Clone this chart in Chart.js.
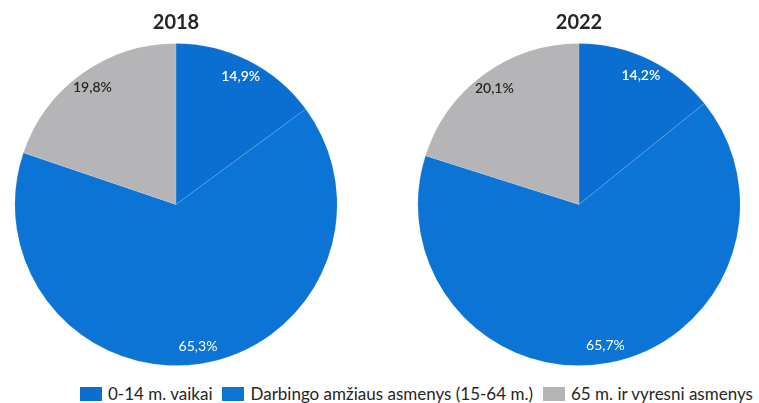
<!DOCTYPE html>
<html>
<head>
<meta charset="utf-8">
<script src="https://cdn.jsdelivr.net/npm/chart.js@4"></script>
<style>
    body { margin: 0; width: 759px; height: 403px; background: #fff; position: relative; overflow: hidden; font-family: Lato, "Open Sans", sans-serif; }
    .box { position: absolute; top: 0; width: 352px; height: 366px; }
    #legend { position: absolute; top: 383px; left: 80px; display: flex; align-items: center; font-size: 17px; color: #262626; white-space: nowrap; }
    #legend span.sw { display: inline-block; width: 22px; height: 14px; margin-right: 6px; }
    #legend .item { display: flex; align-items: center; margin-right: 10px; }
</style>
</head>
<body>
<div class="box" style="left:0"><canvas id="pie2018"></canvas></div>
<div class="box" style="left:403px"><canvas id="pie2022"></canvas></div>
<div id="legend"></div>
<script>
const kategorijos = ['0-14 m. vaikai', 'Darbingo amžiaus asmenys (15-64 m.)', '65 m. ir vyresni asmenys'];
const metai = ['2018', '2022'];
const reiksmes2018 = [14.9, 65.3, 19.8];
const reiksmes2022 = [14.2, 65.7, 20.1];

const spalvos = ['#0a6fd0', '#0b74d4', '#b5b5b7'];
const tekstoSpalvos = ['#ffffff', '#ffffff', '#262626'];

// procentai slice'u viduje, arti krasto
const etiketes = {
    id: 'etiketes',
    afterDatasetsDraw(chart) {
        const ctx = chart.ctx;
        const meta = chart.getDatasetMeta(0);
        const data = chart.data.datasets[0].data;
        meta.data.forEach((arc, i) => {
            const p = arc.getProps(['x', 'y', 'startAngle', 'endAngle', 'outerRadius'], true);
            const mid = (p.startAngle + p.endAngle) / 2;
            const r = p.outerRadius * 0.89;
            const x = p.x + Math.cos(mid) * r;
            const y = p.y + Math.sin(mid) * r;
            ctx.save();
            ctx.font = (i === 1 ? 'normal ' : '600 ') + '14px Lato, "Open Sans", sans-serif';
            ctx.fillStyle = tekstoSpalvos[i];
            ctx.textAlign = 'center';
            ctx.textBaseline = 'middle';
            ctx.fillText(data[i].toFixed(1).replace('.', ',') + '%', x, y);
            ctx.restore();
        });
    }
};

function piesti(id, pavadinimas, reiksmes) {
    const config = {
        type: 'pie',
        data: {
            labels: kategorijos,
            datasets: [{
                data: reiksmes,
                backgroundColor: spalvos,
                borderColor: 'rgba(255,255,255,0.15)',
                borderWidth: 0.8
            }]
        },
        options: {
            responsive: true,
            maintainAspectRatio: false,
            animation: false,
            plugins: {
                legend: { display: false },
                tooltip: { enabled: false },
                title: {
                    display: true,
                    text: pavadinimas,
                    color: '#262626',
                    font: { family: 'Lato, "Open Sans", sans-serif', size: 20, weight: 'bold' },
                    padding: { top: 11, bottom: 8 }
                }
            }
        },
        plugins: [etiketes]
    };
    new Chart(document.getElementById(id).getContext('2d'), config);
}

piesti('pie2018', metai[0], reiksmes2018);
piesti('pie2022', metai[1], reiksmes2022);

const legend = document.getElementById('legend');
kategorijos.forEach((k, i) => {
    const item = document.createElement('div');
    item.className = 'item';
    item.innerHTML = '<span class="sw" style="background:' + spalvos[i] + '"></span>' + k;
    legend.appendChild(item);
});
</script>
</body>
</html>
